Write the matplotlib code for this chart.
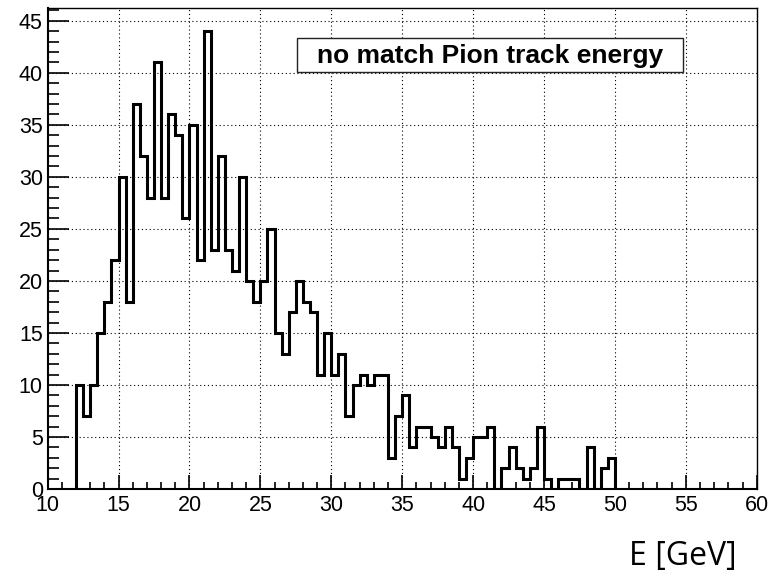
import numpy as np
import matplotlib
matplotlib.use("Agg")
from matplotlib import pyplot as plt
from matplotlib.patches import Rectangle
from matplotlib.ticker import MultipleLocator

# histogram contents, 0.5 GeV bins starting at 12 GeV
bin_start = 12.0
bin_width = 0.5
counts = [10, 7, 10, 15, 18, 22, 30, 18, 37, 32,
          28, 41, 28, 36, 34, 26, 35, 22, 44, 23,
          32, 23, 21, 30, 20, 18, 20, 25, 15, 13,
          17, 20, 18, 17, 11, 15, 11, 13, 7, 10,
          11, 10, 11, 11, 3, 7, 9, 4, 6, 6,
          5, 4, 6, 4, 1, 3, 5, 5, 6, 0,
          2, 4, 2, 1, 2, 6, 1, 0, 1, 1,
          1, 0, 4, 0, 2, 3]
title = "no match Pion track energy"
xlabel = "E [GeV]"

plt.rcParams['font.family'] = ['Liberation Sans', 'DejaVu Sans']

edges = bin_start + bin_width * np.arange(len(counts) + 1)

fig = plt.figure(figsize=(7.69, 5.70), dpi=100)
ax = fig.add_axes([0.062, 0.1421, 0.922, 0.8433])

ax.stairs(counts, edges, color='black', linewidth=2.2, baseline=0)

ax.set_xlim(10, 60)
ax.set_ylim(0, 46.2)

ax.xaxis.set_major_locator(MultipleLocator(5))
ax.xaxis.set_minor_locator(MultipleLocator(1))
ax.yaxis.set_major_locator(MultipleLocator(5))
ax.yaxis.set_minor_locator(MultipleLocator(1))

ax.tick_params(axis='y', which='major', direction='in', length=15, width=1.2, labelsize=15.5, pad=3.5)
ax.tick_params(axis='y', which='minor', direction='in', length=7.7, width=1.2)
ax.tick_params(axis='x', which='major', direction='in', length=10, width=1.2, labelsize=15.5, pad=4)
ax.tick_params(axis='x', which='minor', direction='in', length=5, width=1.2)

ax.grid(True, which='major', color='black', linestyle=(0, (1, 2.5)), linewidth=0.8)
ax.set_axisbelow(True)

for side in ['left', 'bottom']:
    ax.spines[side].set_linewidth(1.5)
for side in ['top', 'right']:
    ax.spines[side].set_linewidth(1.0)

# title box
ax.add_patch(Rectangle((0.3513, 0.868), 0.5452, 0.0701, transform=ax.transAxes,
                       facecolor='white', edgecolor='#222222', linewidth=1.0, zorder=5))
ax.text(0.624, 0.901, title, transform=ax.transAxes, ha='center', va='center',
        fontsize=19, fontweight='bold', zorder=6)

fig.text(736.7 / 769, 5.5 / 570, xlabel, ha='right', va='baseline',
         fontsize=23, family=['Open Sans', 'DejaVu Sans'])

plt.savefig("out.png", dpi=100)
